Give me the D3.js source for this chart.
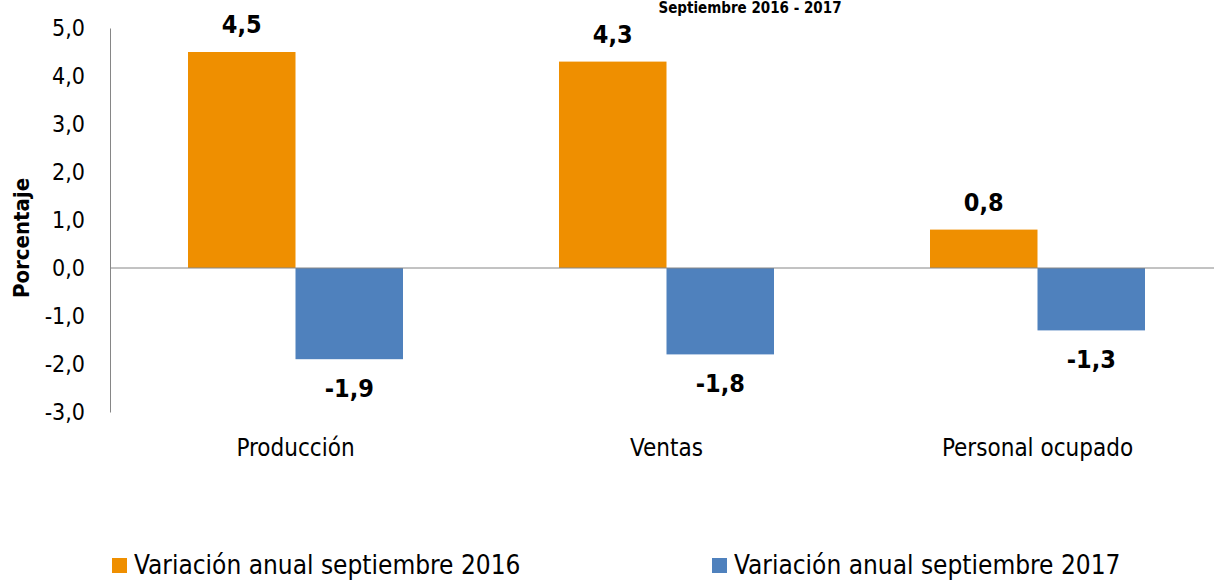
<!DOCTYPE html>
<html>
<head>
<meta charset="utf-8">
<script src="https://cdn.jsdelivr.net/npm/d3@7"></script>
<style>
  body { margin: 0; background: #fff; }
  text { font-family: "Liberation Sans Narrow", "DejaVu Sans Condensed", sans-serif; }
</style>
</head>
<body>
<svg width="1214" height="580"></svg>
<script>
// Chart data
const categories = ["Producción", "Ventas", "Personal ocupado"];
const seriesNames = ["Variación anual septiembre 2016", "Variación anual septiembre 2017"];
const values2016 = [4.5, 4.3, 0.8];
const values2017 = [-1.9, -1.8, -1.3];
const yTicks = [-3, -2, -1, 0, 1, 2, 3, 4, 5];
const colors = ["#ef8f00", "#4f81bd"];

function drawChart() {
  const svg = d3.select("svg");
  const margin = { top: 28, left: 110 };
  const plotWidth = 1113;
  const plotHeight = 384;

  const g = svg.append("g")
    .attr("transform", "translate(" + margin.left + "," + margin.top + ")");

  const x = d3.scaleBand().domain(categories).range([0, plotWidth]).paddingInner(0).paddingOuter(0);
  const inner = d3.scaleBand().domain([0, 1]).range([78, x.bandwidth() - 78]);
  const y = d3.scaleLinear().domain([-3, 5]).range([plotHeight, 0]);

  const fmt = v => d3.format(".1f")(v).replace(".", ",").replace("−", "-");

  // Title, squeezed in at the top edge
  svg.append("text")
    .attr("x", 750)
    .attr("y", 13)
    .attr("text-anchor", "middle")
    .style("font-weight", "bold")
    .style("font-size", "15px")
    .text("Septiembre 2016 - 2017");

  // Y axis
  const yAxis = d3.axisLeft(y).tickValues(yTicks).tickSize(0).tickPadding(25).tickFormat(fmt);
  const ya = g.append("g").call(yAxis);
  ya.select(".domain").attr("stroke", "#868686");
  ya.selectAll("text").style("font-size", "23px").attr("fill", "#000");

  // Bars
  const rows = categories.map((c, i) => ({ cat: c, vals: [values2016[i], values2017[i]] }));
  const groups = g.selectAll(".grp").data(rows).enter().append("g")
    .attr("transform", d => "translate(" + x(d.cat) + ",0)");

  groups.selectAll("rect")
    .data(d => d.vals.map((v, k) => ({ v: v, k: k })))
    .enter().append("rect")
    .attr("x", d => inner(d.k))
    .attr("width", inner.bandwidth())
    .attr("y", d => y(Math.max(0, d.v)))
    .attr("height", d => Math.abs(y(d.v) - y(0)))
    .attr("fill", d => colors[d.k]);

  groups.selectAll(".lbl")
    .data(d => d.vals.map((v, k) => ({ v: v, k: k })))
    .enter().append("text")
    .attr("x", d => inner(d.k) + inner.bandwidth() / 2)
    .attr("y", d => d.v >= 0 ? y(d.v) - 19 : y(d.v) + 38)
    .attr("text-anchor", "middle")
    .style("font-weight", "bold")
    .style("font-size", "25px")
    .text(d => fmt(d.v));

  // Zero line
  g.append("line")
    .attr("x1", 0).attr("x2", plotWidth)
    .attr("y1", y(0)).attr("y2", y(0))
    .attr("stroke", "#868686");

  // Category labels
  g.selectAll(".cat").data(categories).enter().append("text")
    .attr("x", d => x(d) + x.bandwidth() / 2)
    .attr("y", plotHeight + 44)
    .attr("text-anchor", "middle")
    .style("font-size", "24px")
    .text(d => d);

  // Y axis title
  svg.append("text")
    .attr("transform", "translate(29,238) rotate(-90)")
    .attr("text-anchor", "middle")
    .style("font-weight", "bold")
    .style("font-size", "22px")
    .text("Porcentaje");

  // Legend
  const legendX = [112, 712];
  seriesNames.forEach((name, i) => {
    svg.append("rect")
      .attr("x", legendX[i]).attr("y", 558)
      .attr("width", 15).attr("height", 15)
      .attr("fill", colors[i]);
    svg.append("text")
      .attr("x", legendX[i] + 22)
      .attr("y", 574)
      .style("font-size", "26px")
      .text(name);
  });
}

window.addEventListener("load", drawChart);
</script>
</body>
</html>
